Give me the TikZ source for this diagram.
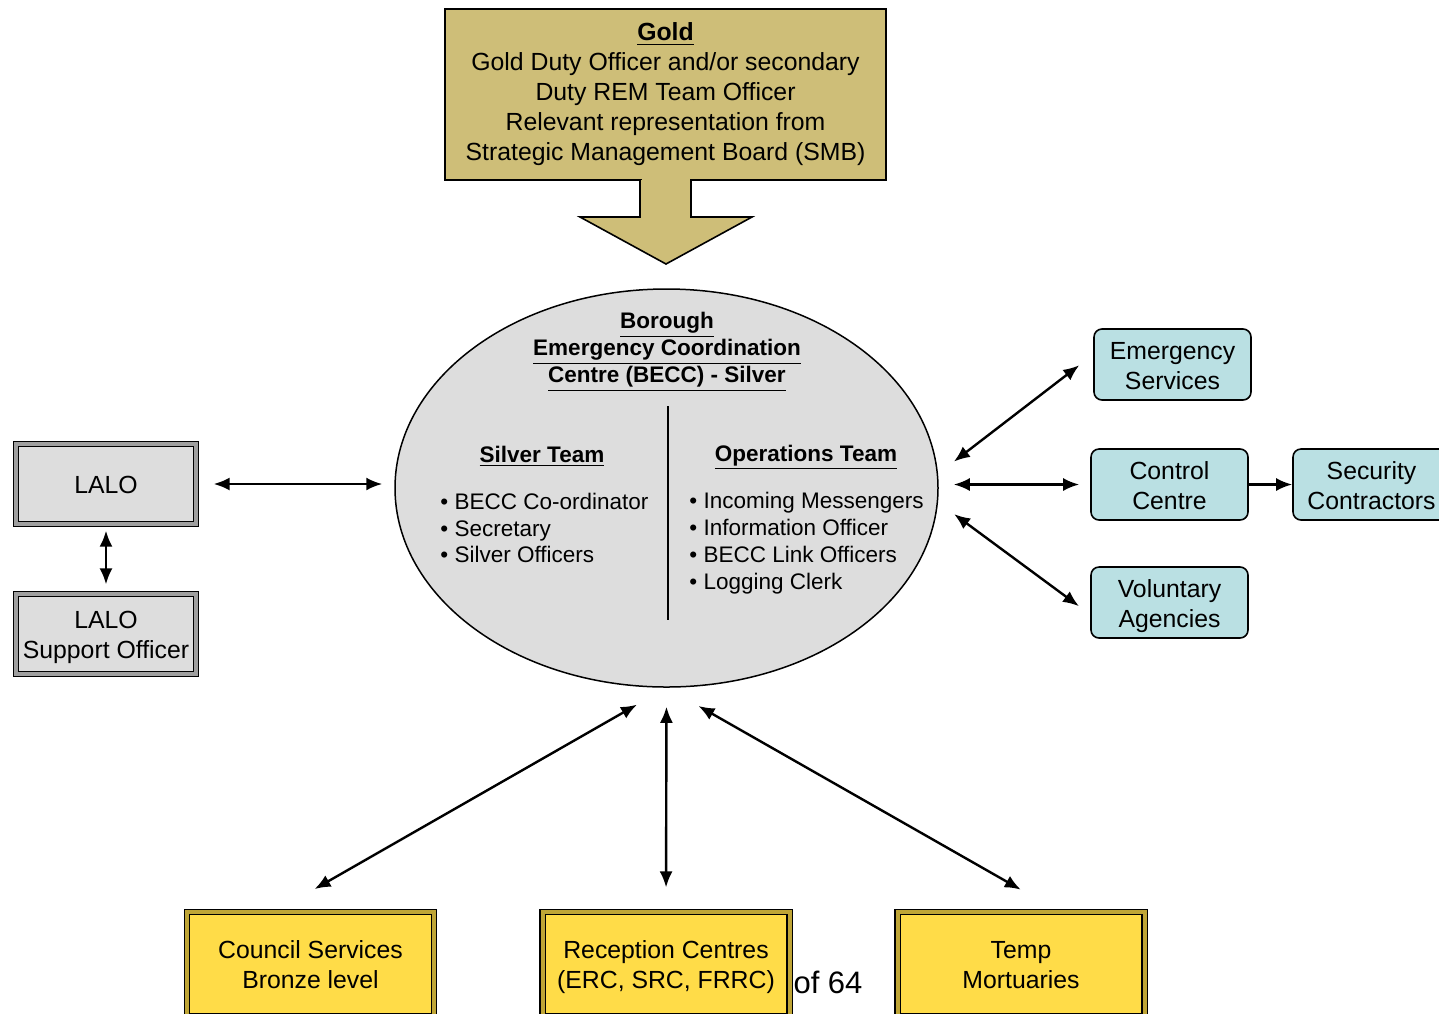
\documentclass[tikz,border=0pt]{standalone}
\usepackage{fontspec}
\setmainfont{Liberation Sans}
\usetikzlibrary{shapes.geometric, arrows.meta}
\definecolor{goldc}{RGB}{206,190,120}
\definecolor{greyc}{RGB}{221,221,221}
\definecolor{cyanc}{RGB}{186,224,227}
\definecolor{yellc}{RGB}{255,220,72}
\newcommand{\bigtxt}{\fontsize{12.4}{15}\selectfont}
\newcommand{\smltxt}{\fontsize{11.25}{13.4}\selectfont}
\newcommand{\topstrut}{\rule{0pt}{27.5pt}}
\newcommand{\botstrut}{\rule[-3pt]{0pt}{3pt}}
\tikzstyle{gold} = [rectangle, minimum width=220.5pt, minimum height=85.5pt, align=center, draw=black, line width=0.8pt, fill=goldc, font=\bigtxt]
\tikzstyle{silv} = [ellipse, minimum width=271.5pt, minimum height=199pt, inner sep=0pt, draw=black, line width=0.75pt, fill=greyc]
\tikzstyle{lalo} = [rectangle, minimum width=90pt, minimum height=40pt, inner sep=1pt, align=center, draw=black, line width=0.6pt, double=gray!75, double distance=1.8pt, fill=greyc, font=\bigtxt]
\tikzstyle{agency} = [rectangle, rounded corners=4pt, minimum width=78.5pt, minimum height=35.5pt, inner sep=1pt, align=center, draw=black, line width=0.8pt, fill=cyanc, font=\bigtxt, execute at begin node=\topstrut, execute at end node=\botstrut]
\tikzstyle{bronze} = [rectangle, minimum width=123.5pt, minimum height=52pt, inner sep=1pt, align=center, draw=black, line width=0.6pt, double=yellc!75!black, double distance=2pt, fill=yellc, font=\bigtxt, execute at begin node=\topstrut, execute at end node=\botstrut]
\tikzstyle{txt} = [inner sep=0pt, font=\smltxt]
\tikzstyle{arrow} = [line width=1.2pt, <->, >={Latex[length=8pt,width=6.5pt]}]
\tikzstyle{arrowone} = [line width=1.2pt, ->, >={Latex[length=8pt,width=6.5pt]}]

\begin{document}
\begin{tikzpicture}[x=0.5pt, y=-0.5pt, node distance=75pt]
\clip (0,0) rectangle (1439,1013);

% Drawing nodes
\node (gold) [gold] at (665.5,94.5) {\textbf{\underline{Gold}}\\Gold Duty Officer and/or secondary\\Duty REM Team Officer\\Relevant representation from\\Strategic Management Board (SMB)};
\draw [fill=goldc, line width=0.8pt] (640,180) -- (640,217) -- (580,217) -- (666,264) -- (752,217) -- (691,217) -- (691,180);
\fill [goldc] (641.5,176) rectangle (689.5,182);

\node (becc) [silv] at (666.5,488) {};
\node (title) [txt, align=center, font=\fontsize{11.25}{13.5}\selectfont] at (667,352) {\textbf{\underline{Borough}}\\\textbf{\underline{Emergency Coordination}}\\\textbf{\underline{Centre (BECC) - Silver}}};
\draw [line width=0.75pt] (668,406) -- (668,620);
\node (silvteam) [txt, anchor=base] at (542,462) {\textbf{\underline{Silver Team}}};
\node (opsteam) [txt, anchor=base] at (806,461) {\textbf{\underline{Operations Team}}};
\node (silvlist) [txt, anchor=west, align=left] at (440,528) {• BECC Co-ordinator\\• Secretary\\• Silver Officers};
\node (opslist) [txt, anchor=west, align=left] at (689,543) {• Incoming Messengers\\• Information Officer\\• BECC Link Officers\\• Logging Clerk};

\node (lalo) [lalo, execute at begin node=\rule{0pt}{10pt}] at (106,484) {LALO};
\node (lalosup) [lalo, below of=lalo, execute at begin node=\topstrut, execute at end node=\botstrut] {LALO\\Support Officer};

\node (emerg) [agency] at (1172.5,364.5) {Emergency\\Services};
\node (ctrl) [agency, below of=emerg, yshift=15pt, xshift=-1.5pt] {Control\\Centre};
\node (volun) [agency, below of=ctrl, yshift=16pt] {Voluntary\\Agencies};
\node (secur) [agency, right of=ctrl, xshift=26pt] {Security\\Contractors};

\node (council) [bronze] at (310.5,964) {Council Services\\Bronze level};
\node (recep) [bronze] at (666,964) {Reception Centres\\(ERC, SRC, FRRC)};
\node (temp) [bronze] at (1021,964) {Temp\\Mortuaries};
\node (page) [inner sep=0pt, font=\fontsize{15.5}{18}\selectfont] at (828,982) {of 64};

% Drawing arrows
\draw [arrow, shorten <=8.5pt, shorten >=6pt] (lalo.east) -- (lalo.east -| becc.west);
\draw [arrow, shorten <=3pt, shorten >=4.5pt] (lalo.south) -- (lalosup.north);
\draw [arrow, shorten <=10pt, shorten >=8.8pt] (becc.3) -- ([yshift=5pt]emerg.west);
\draw [arrow, shorten <=7.5pt, shorten >=5.5pt] (becc.east |- ctrl.west) -- (ctrl.west);
\draw [arrow, shorten <=10pt, shorten >=7pt] (becc.-3) -- ([yshift=-6pt]volun.west);
\draw [arrowone] (ctrl.east) -- (secur.west);
\draw [arrow, shorten <=17pt, shorten >=22.5pt] (becc.south) -- ([xshift=-17.5pt]council.north);
\draw [arrow, shorten <=9.5pt, shorten >=12pt] (becc.south) -- (recep.north);
\draw [arrow, shorten <=18.4pt, shorten >=22pt] (becc.south) -- ([xshift=19pt]temp.north);
\end{tikzpicture}
\end{document}
